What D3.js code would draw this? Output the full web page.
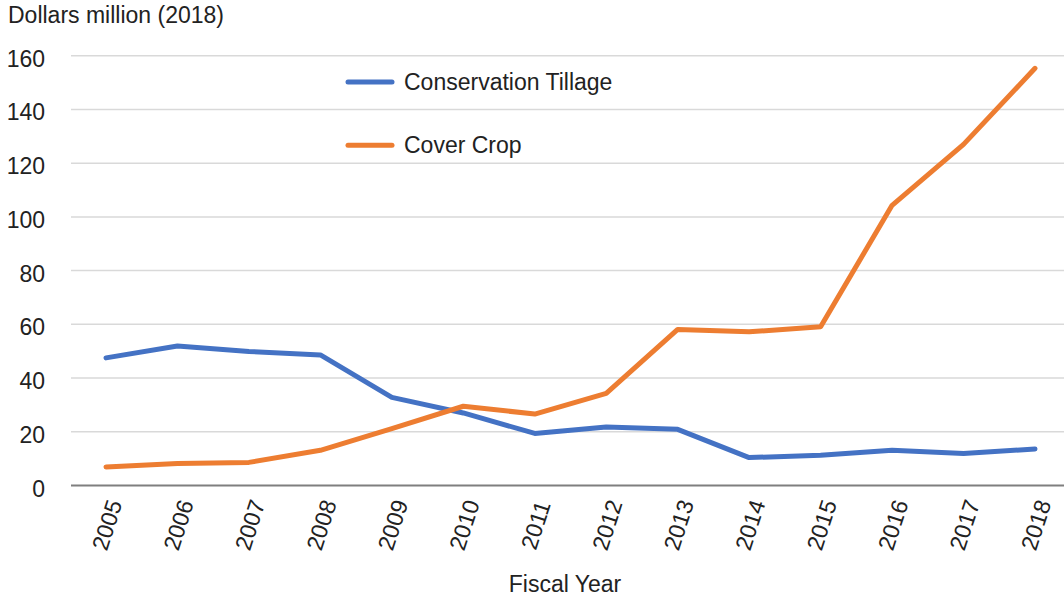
<!DOCTYPE html>
<html>
<head>
<meta charset="utf-8">
<script src="https://cdn.jsdelivr.net/npm/d3@7"></script>
<style>
  html, body { margin: 0; padding: 0; background: #fff; }
  svg { display: block; font-family: "Liberation Sans", Arial, sans-serif; }
</style>
</head>
<body>
<svg id="chart" width="1064" height="598"></svg>
<script>
const years = ["2005","2006","2007","2008","2009","2010","2011","2012","2013","2014","2015","2016","2017","2018"];
const conservationTillage = [47.5, 51.9, 49.9, 48.6, 32.8, 27.0, 19.4, 21.8, 20.9, 10.4, 11.3, 13.1, 11.9, 13.6];
const coverCrop = [6.9, 8.2, 8.6, 13.1, 21.2, 29.5, 26.6, 34.3, 58.1, 57.2, 59.1, 104.3, 127.0, 155.3];
const yTicks = [0, 20, 40, 60, 80, 100, 120, 140, 160];
const seriesNames = ["Conservation Tillage", "Cover Crop"];
const seriesColors = ["#4472C4", "#ED7D31"];

const svg = d3.select("#chart");
const fontSize = 23;
const textColor = "#222";

const x = d3.scalePoint().domain(years).range([106, 1035]);
const y = d3.scaleLinear().domain([0, 160]).range([485.5, 55.7]);

// Title
svg.append("text").attr("x", 8).attr("y", 23)
  .attr("font-size", fontSize).attr("fill", textColor)
  .text("Dollars million (2018)");

// Gridlines
svg.append("g").selectAll("line").data(yTicks.filter(d => d > 0)).join("line")
  .attr("x1", 71).attr("x2", 1064)
  .attr("y1", d => y(d)).attr("y2", d => y(d))
  .attr("stroke", "#d9d9d9").attr("stroke-width", 1.5);

// Y axis labels via d3 axis
const yAxis = svg.append("g").attr("transform", "translate(45,0)")
  .call(d3.axisLeft(y).tickValues(yTicks).tickSize(0).tickPadding(0).tickFormat(d3.format("d")));
yAxis.select(".domain").remove();
yAxis.selectAll("text")
  .attr("font-size", fontSize).attr("fill", textColor)
  .attr("font-family", "Liberation Sans, Arial, sans-serif")
  .attr("dy", null).attr("y", 10.5);

// Zero baseline
svg.append("line").attr("x1", 71).attr("x2", 1064)
  .attr("y1", y(0)).attr("y2", y(0))
  .attr("stroke", "#7f7f7f").attr("stroke-width", 2);

// X axis labels via d3 axis
const xAxis = svg.append("g")
  .call(d3.axisBottom(x).tickSize(0).tickPadding(0));
xAxis.select(".domain").remove();
xAxis.selectAll(".tick").attr("transform", d => `translate(${x(d) + 1},525)`);
xAxis.selectAll("text")
  .attr("font-size", fontSize).attr("fill", textColor)
  .attr("font-family", "Liberation Sans, Arial, sans-serif")
  .attr("y", 0).attr("dy", "0.35em")
  .attr("text-anchor", "middle")
  .attr("transform", "rotate(-72)");

// X axis title
svg.append("text").attr("x", 565).attr("y", 591.5)
  .attr("text-anchor", "middle")
  .attr("font-size", fontSize).attr("fill", textColor)
  .text("Fiscal Year");

// Lines
const line = d3.line().x((d, i) => x(years[i])).y(d => y(d));
[conservationTillage, coverCrop].forEach((vals, k) => {
  svg.append("path").datum(vals)
    .attr("d", line)
    .attr("fill", "none")
    .attr("stroke", seriesColors[k])
    .attr("stroke-width", 5)
    .attr("stroke-linejoin", "round")
    .attr("stroke-linecap", "round");
});

// Legend
const legendY = [82, 145.3];
seriesNames.forEach((name, k) => {
  svg.append("line")
    .attr("x1", 348).attr("x2", 392)
    .attr("y1", legendY[k]).attr("y2", legendY[k])
    .attr("stroke", seriesColors[k]).attr("stroke-width", 5)
    .attr("stroke-linecap", "round");
  svg.append("text").attr("x", 404).attr("y", legendY[k])
    .attr("dy", "0.35em")
    .attr("font-size", fontSize).attr("fill", textColor)
    .text(name);
});
</script>
</body>
</html>
